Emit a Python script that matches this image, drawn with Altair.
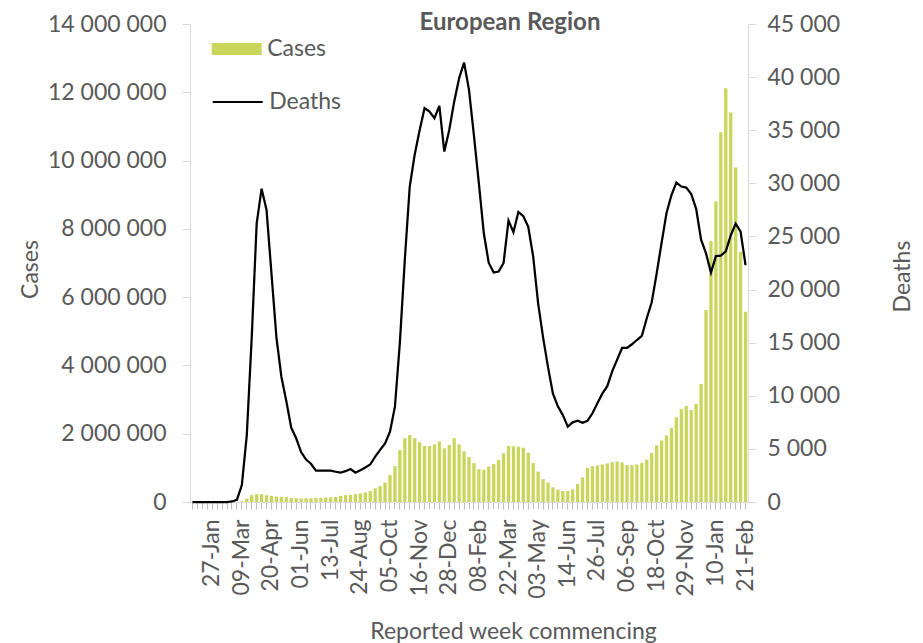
import json
import altair as alt
import pandas as pd

# Weekly categories (week commencing), 30-Dec-2019 .. 21-Feb-2022
weeks = pd.date_range("2019-12-30", periods=113, freq="7D").strftime("%d-%b").tolist()
shown_labels = weeks[4::6]

# Weekly cases (millions)
cases_m = [
    0, 0, 0, 0, 0, 0, 0, 0, 0, 0,
    0.02, 0.10, 0.20, 0.23, 0.23, 0.20, 0.18, 0.16, 0.15, 0.14,
    0.12, 0.11, 0.10, 0.11, 0.11, 0.12, 0.12, 0.13, 0.14, 0.15,
    0.18, 0.20, 0.21, 0.23, 0.25, 0.28, 0.32, 0.40, 0.47, 0.57,
    0.79, 1.05, 1.52, 1.87, 1.96, 1.87, 1.75, 1.64, 1.64, 1.69,
    1.77, 1.57, 1.67, 1.87, 1.69, 1.48, 1.32, 1.14, 0.96, 0.94,
    1.04, 1.11, 1.23, 1.43, 1.64, 1.63, 1.62, 1.59, 1.44, 1.14,
    0.89, 0.67, 0.57, 0.43, 0.36, 0.32, 0.32, 0.37, 0.53, 0.72,
    1.00, 1.05, 1.07, 1.10, 1.13, 1.17, 1.19, 1.16, 1.08, 1.08,
    1.10, 1.14, 1.24, 1.43, 1.66, 1.80, 1.95, 2.17, 2.48, 2.72,
    2.81, 2.69, 2.87, 3.46, 5.62, 7.64, 8.80, 10.83, 12.12, 11.41,
    9.80, 7.32, 5.57,
]

# Weekly deaths
deaths = [
    0, 0, 0, 0, 0, 0, 0, 0, 50, 200,
    1600, 6300, 15500, 26200, 29500, 27500, 21500, 15500, 11800, 9500,
    7000, 6000, 4700, 4000, 3600, 2950, 2950, 2950, 2950, 2850,
    2760, 2900, 3100, 2760, 3000, 3250, 3530, 4270, 4900, 5520,
    6620, 8970, 15000, 22800, 29700, 32700, 35000, 37070, 36750, 36130,
    37290, 32990, 35030, 37690, 39900, 41370, 38800, 34500, 30000, 25300,
    22500, 21600, 21700, 22500, 26500, 25400, 27300, 26900, 25900, 23100,
    18700, 15500, 12700, 10200, 9000, 8200, 7100, 7500, 7650, 7450,
    7650, 8350, 9300, 10200, 10900, 12300, 13400, 14500, 14500, 14850,
    15250, 15630, 17300, 18800, 21500, 24400, 27200, 28900, 30070, 29700,
    29600, 29000, 27600, 24700, 23400, 21600, 23150, 23200, 23600, 25100,
    26200, 25450, 22300,
]

left_ticks = list(range(0, 14_000_001, 2_000_000))
right_ticks = list(range(0, 45_001, 5_000))

df = pd.DataFrame({
    "week": weeks,
    "cases": [c * 1e6 for c in cases_m],
    "deaths": deaths,
    "cs": "Cases",
    "ds": "Deaths",
})

FONT = "Lato"
TXT = "#595959"
AXC = "#d9d9d9"
GREEN = "#c8d65b"
FS = 23

space_fmt = "join(split(format(datum.value, ','), ','), ' ')"

x = alt.X(
    "week:N",
    sort=weeks,
    scale=alt.Scale(paddingInner=0.33, paddingOuter=0.165),
    axis=alt.Axis(
        title="Reported week commencing",
        labelAngle=270,
        labelExpr="indexof(" + json.dumps(shown_labels) + ", datum.value) >= 0 ? datum.value : ''",
        labelOverlap=False,
        labelPadding=10,
        tickColor="#bfbfbf",
        tickSize=7,
        domainColor=AXC,
        titleX=323,
        titleY=136,
        titleBaseline="alphabetic",
    ),
)

bars = alt.Chart(df).mark_bar().encode(
    x=x,
    y=alt.Y(
        "cases:Q",
        scale=alt.Scale(domain=[0, 14_000_000], nice=False),
        axis=alt.Axis(
            values=left_ticks,
            labelExpr=space_fmt,
            title="Cases",
            titleAngle=270,
            titleX=-153,
            titleY=245,
            titleBaseline="alphabetic",
            domainColor=AXC,
            tickColor=AXC,
            tickSize=8,
            labelPadding=16,
        ),
    ),
    color=alt.Color(
        "cs:N",
        scale=alt.Scale(domain=["Cases"], range=[GREEN]),
        legend=alt.Legend(
            title=None,
            orient="none",
            legendX=21.7,
            legendY=0,
            symbolType="M-1,-0.24H1V0.24H-1Z",
            symbolSize=2500,
            symbolStrokeWidth=0,
            labelFont=FONT,
            labelFontSize=FS,
            labelColor=TXT,
            labelOffset=5.5,
        ),
    ),
)

line = alt.Chart(df).mark_line(strokeWidth=2.25).encode(
    x=x,
    y=alt.Y(
        "deaths:Q",
        scale=alt.Scale(domain=[0, 45_000], nice=False),
        axis=alt.Axis(
            orient="right",
            values=right_ticks,
            labelExpr=space_fmt,
            title="Deaths",
            titleAngle=270,
            titleX=161,
            titleY=252,
            titleBaseline="alphabetic",
            domainColor=AXC,
            tickColor=AXC,
            tickSize=8,
            labelPadding=11,
        ),
    ),
    color=alt.Color(
        "ds:N",
        scale=alt.Scale(domain=["Deaths"], range=["#000000"]),
        legend=alt.Legend(
            title=None,
            orient="none",
            legendX=21.7,
            legendY=52,
            symbolType="M-1,0H1",
            symbolSize=2500,
            symbolStrokeWidth=2,
            labelFont=FONT,
            labelFontSize=FS,
            labelColor=TXT,
            labelOffset=5.5,
        ),
    ),
)

chart = (
    alt.layer(bars, line)
    .resolve_scale(y="independent", color="independent")
    .properties(
        width=558,
        height=478,
        autosize=alt.AutoSizeParams(type="none"),
        padding={"left": 182, "top": 16, "right": 167, "bottom": 141},
        title=alt.TitleParams(
            "European Region",
            font=FONT,
            fontSize=24,
            fontWeight="bold",
            color=TXT,
            anchor="middle",
            frame="group",
            dx=41,
            offset=-41,
            baseline="alphabetic",
        ),
    )
    .configure_view(stroke=None)
    .configure_axis(
        grid=False,
        labelFont=FONT,
        titleFont=FONT,
        labelFontSize=FS,
        titleFontSize=FS,
        labelColor=TXT,
        titleColor=TXT,
        titleFontWeight="normal",
    )
)

chart.save("out.html", embed_options={"renderer": "svg", "actions": False})
